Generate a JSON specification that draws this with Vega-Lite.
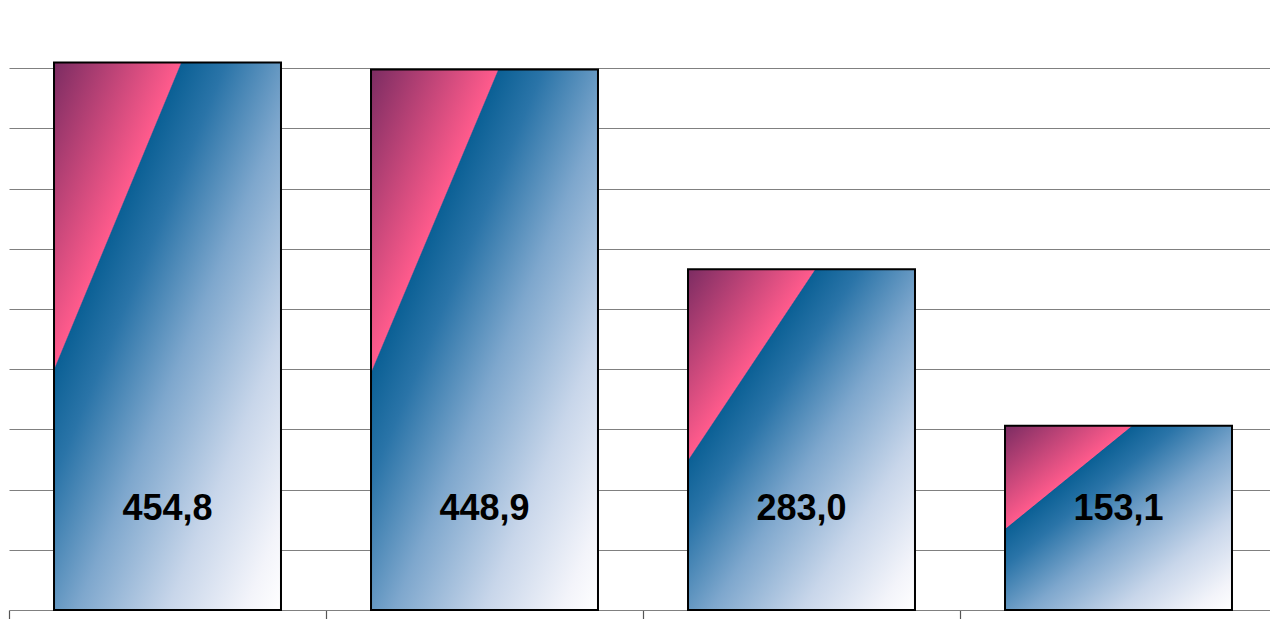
{
  "$schema": "https://vega.github.io/schema/vega-lite/v6.json",
  "width": 1268,
  "height": 602,
  "autosize": {"type": "none"},
  "padding": {"left": 9, "top": 8, "right": 0, "bottom": 9},
  "background": "white",
  "config": {"view": {"stroke": null}},
  "data": {"values": [
    {"cat": "1", "value": 454.8, "label": "454,8"},
    {"cat": "2", "value": 448.9, "label": "448,9"},
    {"cat": "3", "value": 283.0, "label": "283,0"},
    {"cat": "4", "value": 153.1, "label": "153,1"}
  ]},
  "encoding": {
    "x": {"field": "cat", "type": "nominal", "sort": null,
      "scale": {"paddingInner": 0.284, "paddingOuter": 0.142},
      "axis": {"title": null, "labels": false, "bandPosition": -0.198, "tickSize": 9, "tickColor": "#555555", "tickWidth": 1.2, "domainColor": "#808080", "grid": false, "ticks": true}
    }
  },
  "layer": [
    {
      "mark": {"type": "bar",
        "fill": {"gradient": "linear", "x1": 0, "y1": 0, "x2": 1, "y2": 1,
          "stops": [
            {"offset": 0, "color": "#7b2c62"},
            {"offset": 0.279, "color": "#ff5b8c"},
            {"offset": 0.282, "color": "#0b6095"},
            {"offset": 0.38, "color": "#2a74a8"},
            {"offset": 0.55, "color": "#7ea7cd"},
            {"offset": 0.75, "color": "#c8d6ea"},
            {"offset": 0.92, "color": "#f3f4fa"},
            {"offset": 1, "color": "#ffffff"}
          ]},
        "stroke": "black", "strokeWidth": 2},
      "encoding": {
        "y": {"field": "value", "type": "quantitative",
          "scale": {"domain": [0, 500], "nice": false},
          "axis": {"title": null, "labels": false, "ticks": false, "domain": false, "grid": true,
            "values": [50, 100, 150, 200, 250, 300, 350, 400, 450], "gridColor": "#808080", "gridWidth": 1}
        }
      }
    },
    {
      "mark": {"type": "text", "font": "Liberation Sans", "fontWeight": "bold", "fontSize": 36, "color": "#000000", "baseline": "middle", "align": "center"},
      "encoding": {
        "y": {"datum": 84, "type": "quantitative"},
        "text": {"field": "label"}
      }
    }
  ]
}
